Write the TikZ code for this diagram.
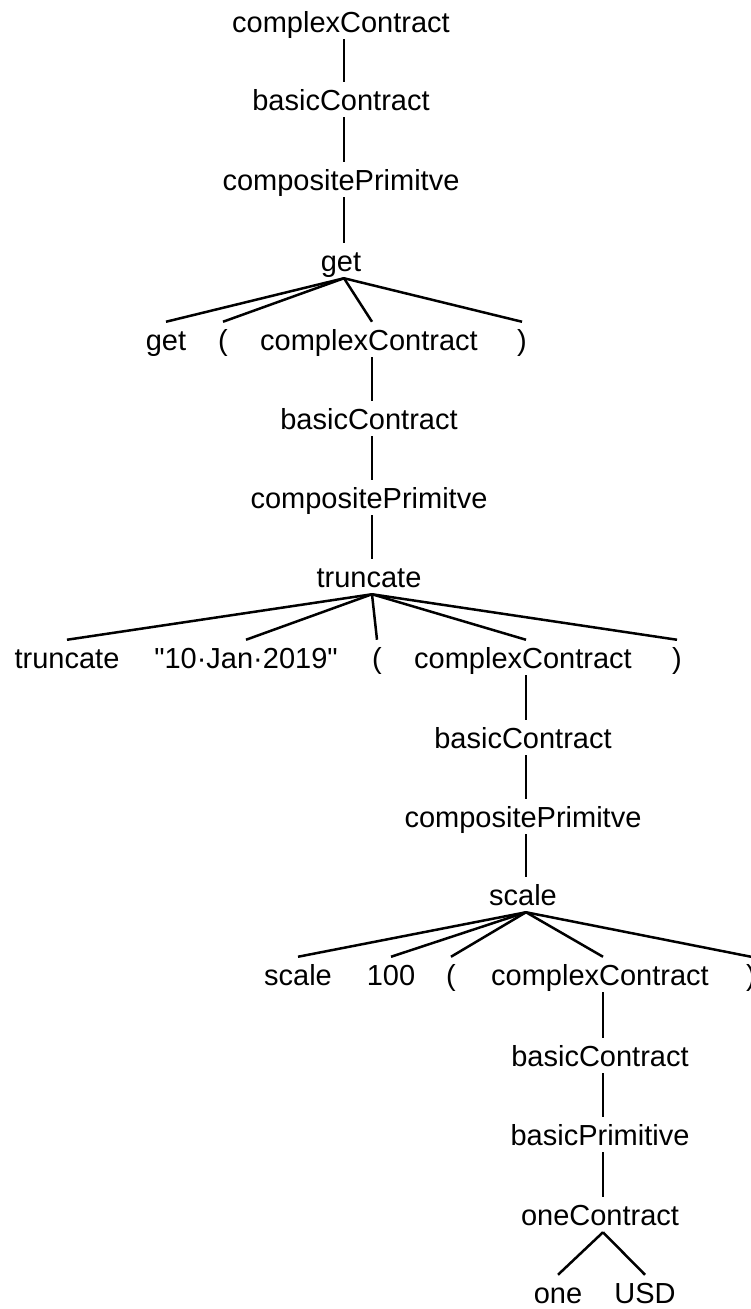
\documentclass[tikz,border=0pt]{standalone}
\usepackage{fontspec}
\setmainfont{Liberation Sans}
% straight double quote, set as a glyph so no ligature mapping curls it
\newcommand\straightdq{\XeTeXglyph\XeTeXcharglyph34\relax}
\begin{document}
\begin{tikzpicture}[x=1pt, y=-1pt, line width=2.5pt,
  leaf/.style={anchor=base, inner sep=0pt, text height=27pt, text depth=6pt,
               font=\fontsize{29}{29}\selectfont},
  rule/.style={leaf, execute at end node={\kern6pt}}]
\useasboundingbox (0,0) rectangle (751,1309);

% top chain
\node[rule] (n0) at (344,32)  {complexContract};
\node[rule] (n1) at (344,110) {basicContract};
\node[rule] (n2) at (344,190) {compositePrimitve};
\node[rule] (n3) at (344,271) {get};
\node[leaf] (g1) at (166,350) {get};
\node[leaf] (g2) at (223,350) {(};
\node[rule] (g3) at (372,350) {complexContract};
\node[leaf] (g4) at (522,350) {)};

% truncate
\node[rule] (n5) at (372,429) {basicContract};
\node[rule] (n6) at (372,508) {compositePrimitve};
\node[rule] (n7) at (372,587) {truncate};
\node[leaf] (t1) at (67,668)  {truncate};
\node[leaf] (t2) at (246,668) {\straightdq 10·Jan·2019\straightdq};
\node[leaf] (t3) at (377,668) {(};
\node[rule] (t4) at (526,668) {complexContract};
\node[leaf] (t5) at (677,668) {)};

% scale
\node[rule] (n9)  at (526,748) {basicContract};
\node[rule] (n10) at (526,827) {compositePrimitve};
\node[rule] (n11) at (526,905) {scale};
\node[leaf] (s1) at (298,985) {scale};
\node[leaf] (s2) at (391,985) {100};
\node[leaf] (s3) at (451,985) {(};
\node[rule] (s4) at (603,985) {complexContract};
\node[leaf] (s5) at (751,985) {)};

% one USD
\node[rule] (n13) at (603,1066) {basicContract};
\node[rule] (n14) at (603,1145) {basicPrimitive};
\node[rule] (n15) at (603,1225) {oneContract};
\node[leaf] (o1) at (558,1303) {one};
\node[leaf] (o2) at (645,1303) {USD};

% connectors
\draw (n0.south) -- (n1.north);
\draw (n1.south) -- (n2.north);
\draw (n2.south) -- (n3.north);
\foreach \c in {g1,g2,g3,g4} \draw (n3.south) -- (\c.north);
\draw (g3.south) -- (n5.north);
\draw (n5.south) -- (n6.north);
\draw (n6.south) -- (n7.north);
\foreach \c in {t1,t2,t3,t4,t5} \draw (n7.south) -- (\c.north);
\draw (t4.south) -- (n9.north);
\draw (n9.south) -- (n10.north);
\draw (n10.south) -- (n11.north);
\foreach \c in {s1,s2,s3,s4,s5} \draw (n11.south) -- (\c.north);
\draw (s4.south) -- (n13.north);
\draw (n13.south) -- (n14.north);
\draw (n14.south) -- (n15.north);
\foreach \c in {o1,o2} \draw (n15.south) -- (\c.north);
\end{tikzpicture}
\end{document}
